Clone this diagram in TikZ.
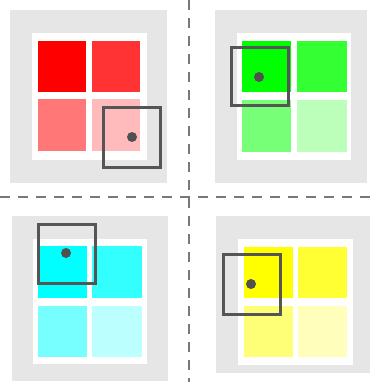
\documentclass[tikz,border=0pt]{standalone}
\begin{document}
\begin{tikzpicture}[x=1pt,y=-1pt,
  panelbg/.style={fill={rgb,255:red,230;green,230;blue,230}},
  whitebg/.style={fill=white},
  cursorbox/.style={draw={rgb,255:red,85;green,85;blue,85},line width=3pt},
  cursordot/.style={fill={rgb,255:red,80;green,80;blue,80}},
  divider/.style={draw={rgb,255:red,120;green,120;blue,120},line width=1.6pt,dash pattern=on 10pt off 8pt}]
\definecolor{r1}{RGB}{255,0,0}\definecolor{r2}{RGB}{255,51,51}\definecolor{r3}{RGB}{255,119,119}\definecolor{r4}{RGB}{255,187,187}
\definecolor{g1}{RGB}{0,255,0}\definecolor{g2}{RGB}{51,255,51}\definecolor{g3}{RGB}{119,255,119}\definecolor{g4}{RGB}{187,255,187}
\definecolor{c1}{RGB}{0,255,255}\definecolor{c2}{RGB}{51,255,255}\definecolor{c3}{RGB}{119,255,255}\definecolor{c4}{RGB}{187,255,255}
\definecolor{y1}{RGB}{255,255,0}\definecolor{y2}{RGB}{255,255,51}\definecolor{y3}{RGB}{255,255,119}\definecolor{y4}{RGB}{255,255,187}
\useasboundingbox (0,0) rectangle (370,382);
% top-left (red)
\fill[panelbg] (10,10) rectangle (167,183);
\fill[whitebg] (32,33) rectangle (147,160);
\fill[r1] (38,41) rectangle (86,92);
\fill[r2] (92,41) rectangle (140,92);
\fill[r3] (38,99) rectangle (86,151);
\fill[r4] (92,99) rectangle (140,151);
% top-right (green)
\fill[panelbg] (215,10) rectangle (367,183);
\fill[whitebg] (237,33) rectangle (351,160);
\fill[g1] (242,41) rectangle (291,92);
\fill[g2] (297,41) rectangle (347,92);
\fill[g3] (242,100) rectangle (291,152);
\fill[g4] (297,100) rectangle (347,152);
% bottom-left (cyan)
\fill[panelbg] (12,216) rectangle (168,381);
\fill[whitebg] (33,239) rectangle (147,364);
\fill[c1] (38,246) rectangle (87,298);
\fill[c2] (92,246) rectangle (142,298);
\fill[c3] (38,306) rectangle (87,357);
\fill[c4] (92,306) rectangle (142,357);
% bottom-right (yellow)
\fill[panelbg] (216,216) rectangle (370,373);
\fill[whitebg] (238,239) rectangle (353,365);
\fill[y1] (244,247) rectangle (293,298);
\fill[y2] (298,247) rectangle (347,298);
\fill[y3] (244,306) rectangle (293,357);
\fill[y4] (298,306) rectangle (347,357);
% dividers
\coordinate (vt) at (189,0); \coordinate (vb) at (189,382);
\coordinate (hl) at (0,197); \coordinate (hr) at (370,197);
\draw[divider] (vt) -- (vb);
\draw[divider] (hl) -- (hr);
% cursors
\draw[cursorbox] (103,108) rectangle (160,167);
\fill[cursordot] (132,137) circle (5);
\draw[cursorbox] (231,48) rectangle (288,106);
\fill[cursordot] (259,77) circle (5);
\draw[cursorbox] (38,224) rectangle (95,283);
\fill[cursordot] (66,253) circle (5);
\draw[cursorbox] (223,254) rectangle (280,314);
\fill[cursordot] (251,284) circle (5);
\end{tikzpicture}
\end{document}
